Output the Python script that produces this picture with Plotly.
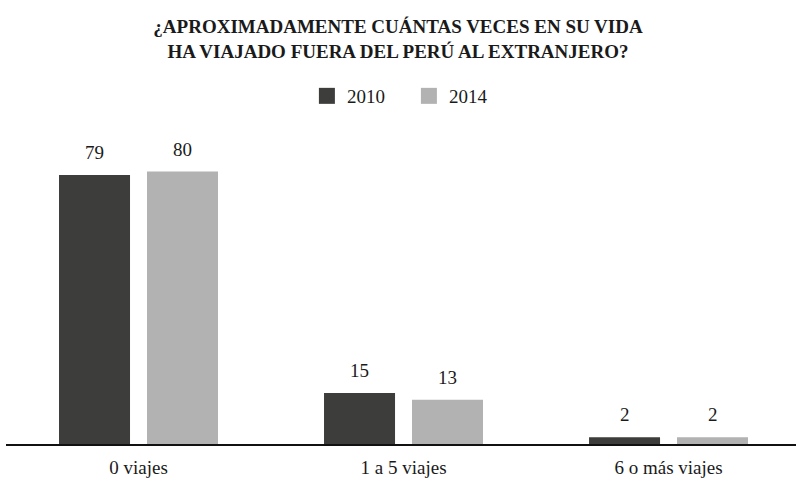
import plotly.graph_objects as go

categories = ["0 viajes", "1 a 5 viajes", "6 o más viajes"]
years = ["2010", "2014"]
values_2010 = [79, 15, 2]
values_2014 = [80, 13, 2]
colors = ["#3d3d3b", "#b2b2b2"]

FONT = "'Liberation Serif', 'Times New Roman', 'DejaVu Serif', serif"
fig = go.Figure()
series = [values_2010, values_2014]
for name, vals, col in zip(years, series, colors):
    fig.add_trace(go.Bar(x=categories, y=vals, name=name, showlegend=False,
                         marker=dict(color=col, line=dict(width=0))))
# legend entries with larger square swatches
for name, col in zip(years, colors):
    fig.add_trace(go.Scatter(x=[None], y=[None], mode="markers", name=name,
                             marker=dict(symbol="square", size=16, color=col, line=dict(width=0))))

offsets = [-0.166, 0.166]
for off, vals in zip(offsets, series):
    for i, v in enumerate(vals):
        fig.add_annotation(x=i + off, y=v, xref="x", yref="y", text=str(v), showarrow=False,
                           yanchor="bottom", yshift=10, font=dict(family=FONT, size=19, color="#1a1a1a"))

fig.update_layout(
    width=796, height=482,
    margin=dict(l=6, r=0, t=100, b=37.5, autoexpand=False),
    paper_bgcolor="white", plot_bgcolor="white",
    barmode="group", bargap=0.336, bargroupgap=0.193,
    title=dict(text="<b>¿APROXIMADAMENTE CUÁNTAS VECES EN SU VIDA<br>HA VIAJADO FUERA DEL PERÚ AL EXTRANJERO?</b>",
               x=0.5, xanchor="center", y=1 - 33 / 482, yanchor="middle", yref="container",
               font=dict(family=FONT, size=19, color="#1a1a1a")),
    legend=dict(orientation="h", x=0.51, xanchor="center", y=1 - 96 / 482, yanchor="middle", yref="container",
                font=dict(family=FONT, size=19, color="#1a1a1a"), itemclick=False,
                entrywidth=57, entrywidthmode="pixels"),
    showlegend=True,
    xaxis=dict(range=[-0.5, 2.481], showline=True, linecolor="#111", linewidth=1.5, ticks="",
               ticklabelstandoff=5,
               tickfont=dict(family=FONT, size=19, color="#1a1a1a"), showgrid=False, fixedrange=True),
    yaxis=dict(range=[0, 101], visible=False, showgrid=False, zeroline=False, fixedrange=True),
)
fig.write_html("out.html", post_script="document.body.style.margin='0';",
               config={"displayModeBar": False})
